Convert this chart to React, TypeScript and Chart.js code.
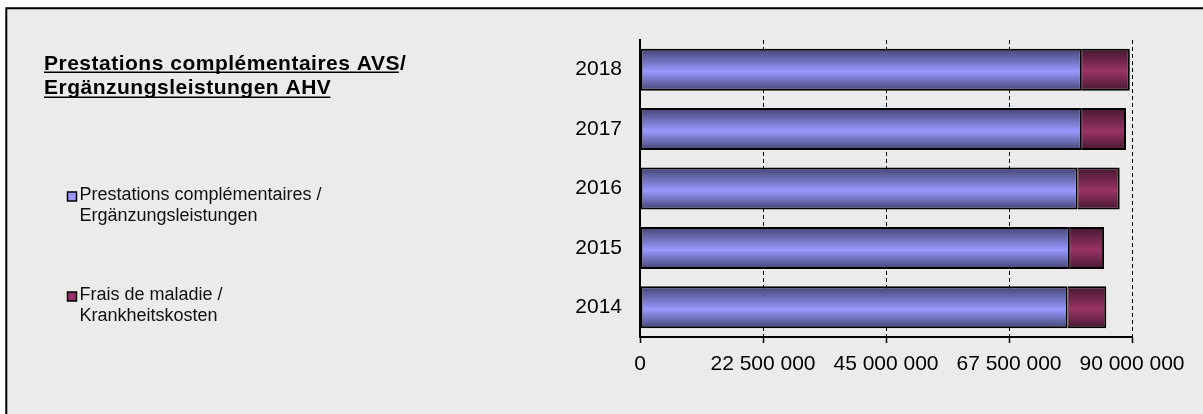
import React, { useEffect, useRef } from "react";
import { Chart, registerables } from "chart.js";

Chart.register(...registerables);

const years = ["2018", "2017", "2016", "2015", "2014"];
const prestations = [80700000, 80700000, 80000000, 78500000, 78200000];
const fraisMaladie = [8900000, 8200000, 7750000, 6400000, 7100000];
const xTicks = [0, 22500000, 45000000, 67500000, 90000000];
const seriesLabels = [
  ["Prestations complémentaires /", "Ergänzungsleistungen"],
  ["Frais de maladie /", "Krankheitskosten"],
];
const titleLines = ["Prestations complémentaires AVS/", "Ergänzungsleistungen AHV"];

const FONT = '"Liberation Sans", Arial, sans-serif';
const BLUE = { light: "#9999ff", dark: "#434372" };
const MAROON = { light: "#993366", dark: "#461830" };
const BAR_PCT = 0.707;

const fmt = (v: number) => String(Math.round(v)).replace(/\B(?=(\d{3})+(?!\d))/g, " ");

function gradientFor(colors: { light: string; dark: string }) {
  return (ctx: any) => {
    const chart = ctx.chart;
    const y = chart.scales && chart.scales.y;
    if (!y || !chart.chartArea || ctx.dataIndex === undefined) return colors.light;
    const center = y.getPixelForValue(ctx.dataIndex);
    const h = (y.height / years.length) * BAR_PCT;
    const g = chart.ctx.createLinearGradient(0, center - h / 2, 0, center + h / 2);
    g.addColorStop(0, colors.dark);
    g.addColorStop(0.55, colors.light);
    g.addColorStop(1, colors.dark);
    return g;
  };
}

const backgroundPlugin = {
  id: "frameBg",
  beforeDraw(chart: any) {
    const ctx = chart.ctx;
    ctx.save();
    ctx.fillStyle = "#ffffff";
    ctx.fillRect(0, 0, chart.width, chart.height);
    ctx.fillStyle = "#ebebeb";
    ctx.fillRect(7, 9, chart.width - 7, chart.height - 9);
    ctx.strokeStyle = "#000";
    ctx.lineWidth = 2;
    ctx.beginPath();
    ctx.moveTo(6.3, chart.height);
    ctx.lineTo(6.3, 8.3);
    ctx.lineTo(chart.width, 8.3);
    ctx.stroke();
    ctx.restore();
  },
};

const sidePlugin = {
  id: "sideText",
  afterDraw(chart: any) {
    const ctx = chart.ctx;
    ctx.save();
    // Title
    ctx.fillStyle = "#000";
    ctx.font = `bold 21px ${FONT}`;
    (ctx as any).letterSpacing = "0.5px";
    ctx.textBaseline = "alphabetic";
    ctx.textAlign = "left";
    const tx = 44;
    const baselines = [69.5, 93.5];
    titleLines.forEach((line, i) => {
      ctx.fillText(line, tx, baselines[i]);
    });
    const u1 = ctx.measureText("Prestations complémentaires AVS").width;
    const u2 = ctx.measureText(titleLines[1]).width;
    ctx.lineWidth = 1.6;
    ctx.strokeStyle = "#000";
    ctx.beginPath();
    ctx.moveTo(tx, baselines[0] + 2.8);
    ctx.lineTo(tx + u1 - 1, baselines[0] + 2.8);
    ctx.moveTo(tx, baselines[1] + 3.8);
    ctx.lineTo(tx + u2 - 1, baselines[1] + 3.8);
    ctx.stroke();

    // Legend
    (ctx as any).letterSpacing = "0px";
    ctx.font = `18px ${FONT}`;
    const items = [
      { color: BLUE.light, top: 192, lines: seriesLabels[0], base: 200 },
      { color: MAROON.light, top: 292, lines: seriesLabels[1], base: 300 },
    ];
    items.forEach((it) => {
      ctx.fillStyle = it.color;
      ctx.fillRect(67.5, it.top, 9, 9);
      ctx.lineWidth = 1.5;
      ctx.strokeStyle = "#000";
      ctx.strokeRect(67.5, it.top, 9, 9);
      ctx.fillStyle = "#111";
      it.lines.forEach((l, j) => {
        ctx.fillText(l, 79.5, it.base + j * 20.5);
      });
    });
    ctx.restore();
  },
};

export default function App() {
  const ref = useRef<HTMLCanvasElement | null>(null);

  useEffect(() => {
    if (!ref.current) return;
    const chart = new Chart(ref.current, {
      type: "bar",
      data: {
        labels: years,
        datasets: [
          {
            label: seriesLabels[0].join(" "),
            data: prestations,
            backgroundColor: gradientFor(BLUE) as any,
            borderColor: "#000",
            borderWidth: { left: 2, top: 2, bottom: 2, right: 1.5 } as any,
            borderSkipped: false,
            barPercentage: BAR_PCT,
            categoryPercentage: 1,
          },
          {
            label: seriesLabels[1].join(" "),
            data: fraisMaladie,
            backgroundColor: gradientFor(MAROON) as any,
            borderColor: "#000",
            borderWidth: { left: 1, top: 2, bottom: 2, right: 2 } as any,
            borderSkipped: false,
            barPercentage: BAR_PCT,
            categoryPercentage: 1,
          },
        ],
      },
      options: {
        indexAxis: "y",
        responsive: false,
        animation: false,
        events: [],
        layout: { padding: { top: 40, right: 71, bottom: 0, left: 0 } },
        plugins: {
          legend: { display: false },
          title: { display: false },
          tooltip: { enabled: false },
        },
        scales: {
          x: {
            type: "linear",
            stacked: true,
            min: 0,
            max: 90000000,
            afterBuildTicks: (scale: any) => {
              scale.ticks = xTicks.map((v) => ({ value: v }));
            },
            afterFit: (scale: any) => {
              scale.height = 77;
            },
            ticks: {
              callback: (v: any) => fmt(Number(v)),
              color: "#000",
              font: { family: FONT, size: 21 },
              padding: 9,
              maxRotation: 0,
              autoSkip: false,
            },
            grid: {
              color: "#000",
              lineWidth: 1,
              tickLength: 6,
              tickColor: "#000",
              tickWidth: 1.5,
              tickBorderDash: [],
            },
            border: { display: true, color: "#000", width: 2, dash: [4, 3] },
          },
          y: {
            type: "category",
            stacked: true,
            afterFit: (scale: any) => {
              scale.width = 640;
            },
            ticks: {
              color: "#000",
              font: { family: FONT, size: 21 },
              padding: 18,
            },
            grid: { display: false, drawTicks: false },
            border: { display: true, color: "#000", width: 2 },
          },
        },
      },
      plugins: [backgroundPlugin, sidePlugin],
    } as any);
    return () => chart.destroy();
  }, []);

  return (
    <div style={{ position: "fixed", left: 0, top: 0, width: 1203, height: 414, background: "#fff" }}>
      <canvas ref={ref} width={1203} height={414} style={{ display: "block" }} />
    </div>
  );
}
